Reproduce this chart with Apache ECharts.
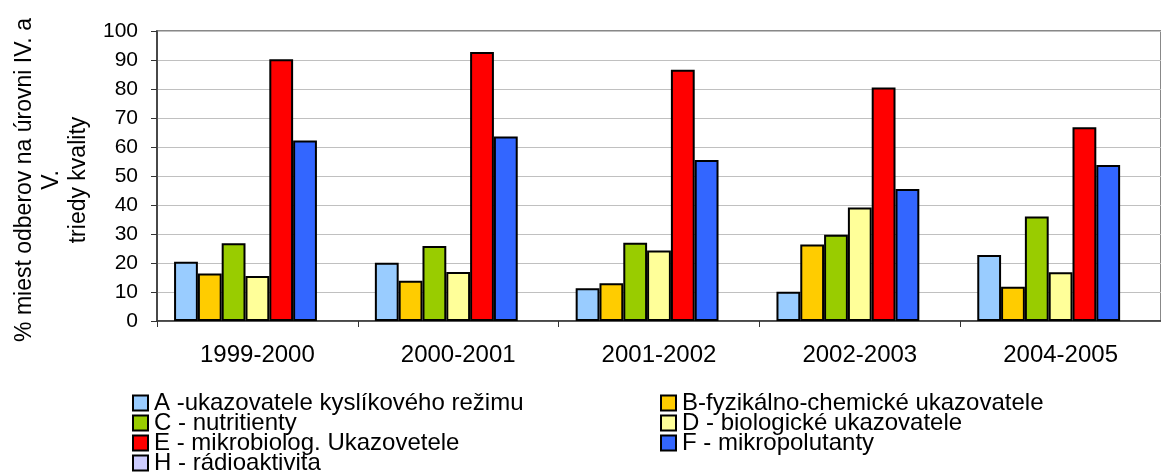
<!DOCTYPE html>
<html>
<head>
<meta charset="utf-8">
<script src="https://cdn.jsdelivr.net/npm/echarts@6/dist/echarts.min.js"></script>
<style>
  html, body { margin: 0; padding: 0; background: #fff; }
  #chart { width: 1161px; height: 475px; }
</style>
</head>
<body>
<div id="chart"></div>
<script>
// obdobia
const categories = ['1999-2000', '2000-2001', '2001-2002', '2002-2003', '2004-2005'];

// % miest odberov, po skupinach ukazovatelov
const serA = [20.4, 20.1, 11.3, 10.1, 22.8];
const serB = [16.4, 13.9, 13.0, 26.4, 11.8];
const serC = [26.8, 25.9, 27.0, 29.7, 36.0];
const serD = [15.5, 16.9, 24.3, 39.1, 16.8];
const serE = [90.3, 92.8, 86.6, 80.5, 66.8];
const serF = [62.2, 63.6, 55.5, 45.5, 53.8];
const serH = [null, null, null, null, null];

const names = [
  'A -ukazovatele kyslíkového režimu',
  'B-fyzikálno-chemické ukazovatele',
  'C - nutritienty',
  'D - biologické ukazovatele',
  'E - mikrobiolog. Ukazovetele',
  'F - mikropolutanty',
  'H - rádioaktivita'
];
const colors = ['#99CCFF', '#FFCC00', '#99CC00', '#FFFF99', '#FF0000', '#3366FF', '#CCCCFF'];
const yTicks = [0, 10, 20, 30, 40, 50, 60, 70, 80, 90, 100];

const font = 'Liberation Sans, Arial, sans-serif';
const allData = [serA, serB, serC, serD, serE, serF, serH];

const chart = echarts.init(document.getElementById('chart'));

// legenda: dva stlpce, riadky po 20 px
const legends = names.map((n, i) => ({
  data: [n],
  left: i % 2 === 0 ? 132 : 660,
  top: 391 + Math.floor(i / 2) * 20,
  padding: 0,
  itemWidth: 15,
  itemHeight: 15,
  icon: 'rect',
  selectedMode: false,
  textStyle: { fontFamily: font, fontSize: 24, color: '#000', padding: [0, 0, 0, 1] }
}));

const option = {
  animation: false,
  textStyle: { fontFamily: font },
  grid: {
    left: 157,
    right: -8,
    top: 31,
    bottom: 154,
    show: true,
    borderColor: '#888',
    borderWidth: 2
  },
  legend: legends,
  xAxis: {
    type: 'category',
    data: categories,
    axisLine: { lineStyle: { color: '#333', width: 1.5 } },
    axisTick: { show: true, length: 6, lineStyle: { color: '#333' } },
    axisLabel: { color: '#000', fontSize: 24, margin: 22, fontFamily: font }
  },
  yAxis: {
    type: 'value',
    min: yTicks[0],
    max: yTicks[yTicks.length - 1],
    interval: 10,
    name: '% miest odberov na úrovni IV. a\nV.\ntriedy kvality',
    nameLocation: 'middle',
    nameRotate: 90,
    nameGap: 63,
    nameTextStyle: { color: '#000', fontSize: 23, lineHeight: 27, fontFamily: font, align: 'center', padding: [0, 8, 0, 0] },
    axisLine: { show: true, lineStyle: { color: '#333', width: 1.5 } },
    axisTick: { show: true, length: 6, lineStyle: { color: '#333' } },
    axisLabel: { color: '#000', fontSize: 21, margin: 19, fontFamily: font },
    splitLine: { lineStyle: { color: '#C0C0C0', width: 1 } }
  },
  series: allData.map((d, i) => ({
    name: names[i],
    type: 'bar',
    data: d,
    barGap: '0%',
    barCategoryGap: '17%',
    itemStyle: { color: colors[i], borderColor: '#000', borderWidth: 2 }
  }))
};

chart.setOption(option);
</script>
</body>
</html>
